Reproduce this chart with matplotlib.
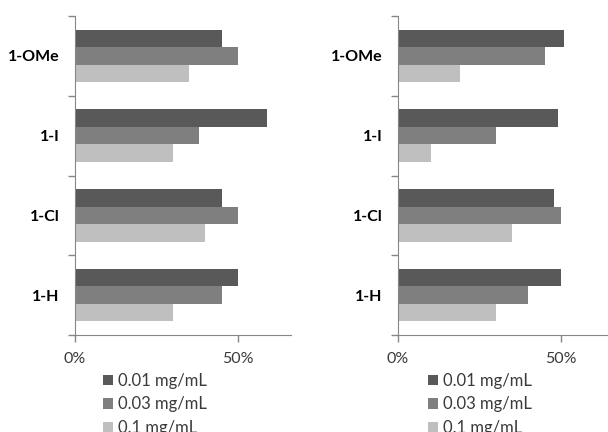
import matplotlib.pyplot as plt
import numpy as np

# data (percent), categories listed bottom -> top
compounds = ['1-H', '1-Cl', '1-I', '1-OMe']
series = ['0.01 mg/mL', '0.03 mg/mL', '0.1 mg/mL']

left_001 = [50, 45, 59, 45]
left_003 = [45, 50, 38, 50]
left_01 = [30, 40, 30, 35]

right_001 = [50, 48, 49, 51]
right_003 = [40, 50, 30, 45]
right_01 = [30, 35, 10, 19]

colors = ['#595959', '#7f7f7f', '#bfbfbf']
axis_col = '#868686'
txt_col = '#3a3a3a'

plt.rcParams['font.family'] = ['Lato', 'DejaVu Sans']

fig = plt.figure(figsize=(6.08, 4.32), dpi=100)

def panel(rect, vals, leg_x):
    ax = fig.add_axes(rect)
    y = np.arange(len(compounds))
    h = 0.22
    offs = [h, 0, -h]
    for v, off, c, lab in zip(vals, offs, colors, series):
        ax.barh(y + off, np.array(v) / 100.0, height=h, color=c, label=lab)
    ax.set_ylim(-0.5, len(compounds) - 0.5)
    ax.set_xlim(0, 0.663)
    ax.set_yticks(y)
    ax.set_yticklabels(compounds, fontsize=11.5, fontweight='bold')
    ax.set_yticks(np.arange(-0.5, len(compounds)), minor=True)
    ax.tick_params(axis='y', which='major', length=0, pad=11)
    ax.tick_params(axis='y', which='minor', length=5, color=axis_col, width=1)
    ax.set_xticks([0, 0.5])
    ax.set_xticklabels(['0%', '50%'], fontsize=11.5, color=txt_col)
    ax.tick_params(axis='x', length=5, color=axis_col, width=1, pad=7)
    for s in ['top', 'right']:
        ax.spines[s].set_visible(False)
    for s in ['left', 'bottom']:
        ax.spines[s].set_color(axis_col)
    leg = ax.legend(loc='upper left', bbox_to_anchor=(leg_x / 608, 0.137),
                    bbox_transform=fig.transFigure, frameon=False, fontsize=12,
                    handlelength=0.62, handleheight=0.62, handletextpad=0.3,
                    labelspacing=0.45, borderpad=0, borderaxespad=0)
    for t in leg.get_texts():
        t.set_color(txt_col)
    return ax

panel([75 / 608, 97 / 432, 216 / 608, 319 / 432], [left_001, left_003, left_01], 103)
panel([398 / 608, 97 / 432, 216 / 608, 319 / 432], [right_001, right_003, right_01], 428)

fig.savefig('out.png', dpi=100)
